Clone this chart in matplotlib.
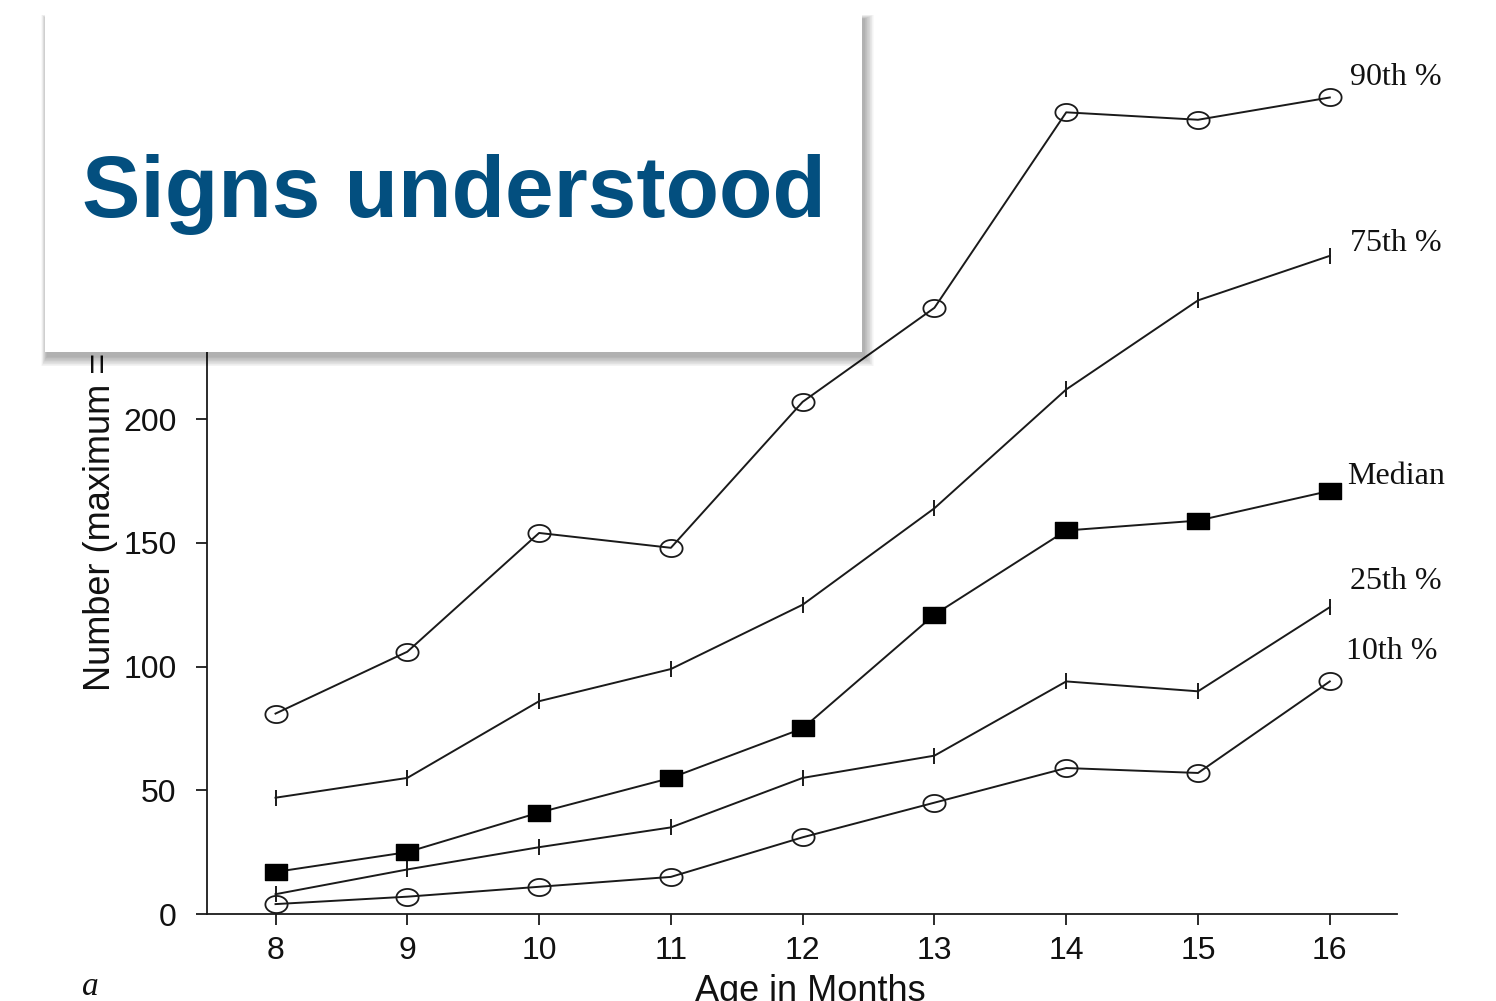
import numpy as np
import matplotlib.pyplot as plt
from matplotlib.path import Path
from matplotlib.patches import Rectangle

# age in months and percentile curves for signs understood
months = [8, 9, 10, 11, 12, 13, 14, 15, 16]
p90 = [81, 106, 154, 148, 207, 245, 324, 321, 330]
p75 = [47, 55, 86, 99, 125, 164, 212, 248, 266]
median = [17, 25, 41, 55, 75, 121, 155, 159, 171]
p25 = [8, 18, 27, 35, 55, 64, 94, 90, 124]
p10 = [4, 7, 11, 15, 31, 45, 59, 57, 94]

yticks = [0, 50, 100, 150, 200, 250, 300, 350]
curve_labels = ['90th %', '75th %', 'Median', '25th %', '10th %']
label_pos = [(16.15, 338), (16.15, 271), (16.13, 177), (16.15, 134.5), (16.12, 106)]

W, H = 1496, 1001
fig = plt.figure(figsize=(W / 100, H / 100), dpi=100)
fig.patch.set_facecolor('white')

# axes placed in pixel units
left, right, bottom, top = 207, 1397, 914, 48
ax = fig.add_axes([left / W, (H - bottom) / H, (right - left) / W, (bottom - top) / H])
ax.set_xlim(7.48, 16.51)
ax.set_ylim(0, 350)

# slightly flattened circle and box markers
t = np.linspace(0, 2 * np.pi, 64)
ellipse = Path(np.column_stack([np.cos(t), 0.77 * np.sin(t)]), closed=True)
box = Path([(-1, -0.74), (1, -0.74), (1, 0.74), (-1, 0.74), (-1, -0.74)], closed=True)

ink = '#1a1a1a'
lw = 1.4
ax.plot(months, p10, color=ink, lw=lw, marker=ellipse, ms=16, mfc='none', mec=ink, mew=1.3, zorder=3)
ax.plot(months, p25, color=ink, lw=lw, marker='|', ms=12, mec=ink, mew=1.4, zorder=4)
ax.plot(months, median, color=ink, lw=lw, marker=box, ms=16.5, mfc='black', mec='black', zorder=5)
ax.plot(months, p75, color=ink, lw=lw, marker='|', ms=12, mec=ink, mew=1.4, zorder=4)
ax.plot(months, p90, color=ink, lw=lw, marker=ellipse, ms=16, mfc='none', mec=ink, mew=1.3, zorder=3)

for lab, (lx, ly) in zip(curve_labels, label_pos):
    ax.text(lx, ly, lab, family='Liberation Serif', fontsize=23, color='#111111',
            ha='left', va='center', clip_on=False)

for side in ['top', 'right']:
    ax.spines[side].set_visible(False)
for side in ['left', 'bottom']:
    ax.spines[side].set_linewidth(1.3)
    ax.spines[side].set_color(ink)

ax.set_xticks(months)
ax.set_yticks(yticks)
ax.tick_params(axis='both', direction='out', length=8, width=1.3, colors=ink,
               labelcolor='#111111', labelsize=23)
ax.tick_params(axis='y', pad=14)
ax.tick_params(axis='x', pad=8)
for lab in ax.get_xticklabels() + ax.get_yticklabels():
    lab.set_family('Liberation Sans')

ax.set_xlabel('Age in Months', family='Liberation Sans', fontsize=26, color='#111111')
ax.xaxis.set_label_coords(0.507, -0.0695)
ax.set_ylabel('Number (maximum = 396)', family='Liberation Sans', fontsize=26, color='#111111')
ax.yaxis.set_label_coords(-0.075, 0.5)

# overlay in pixel coordinates for the title card
ov = fig.add_axes([0, 0, 1, 1], zorder=10)
ov.set_xlim(0, W)
ov.set_ylim(H, 0)
ov.axis('off')
ov.patch.set_alpha(0)

bx0, by0, bx1, by1 = 45, 15, 862, 352
for i in range(14, 0, -1):
    ov.add_patch(Rectangle((bx0 - i * 0.4 + 2, by0 + 4 - i * 0.3), bx1 - bx0 + i * 1.1,
                           by1 - by0 + i * 1.05, facecolor='black', edgecolor='none',
                           alpha=0.022))
ov.add_patch(Rectangle((bx0, by0), bx1 - bx0, by1 - by0, facecolor='white', edgecolor='none'))
ov.text((bx0 + bx1) / 2 + 0.5, 217, 'Signs understood', family='Liberation Sans',
        fontweight='bold', fontsize=63, color='#034f7f', ha='center', va='baseline')

ov.text(90, 995, 'a', family='Liberation Serif', style='italic', fontsize=24,
        color='#111111', ha='center', va='baseline')

fig.savefig('out.png', dpi=100, facecolor='white')
